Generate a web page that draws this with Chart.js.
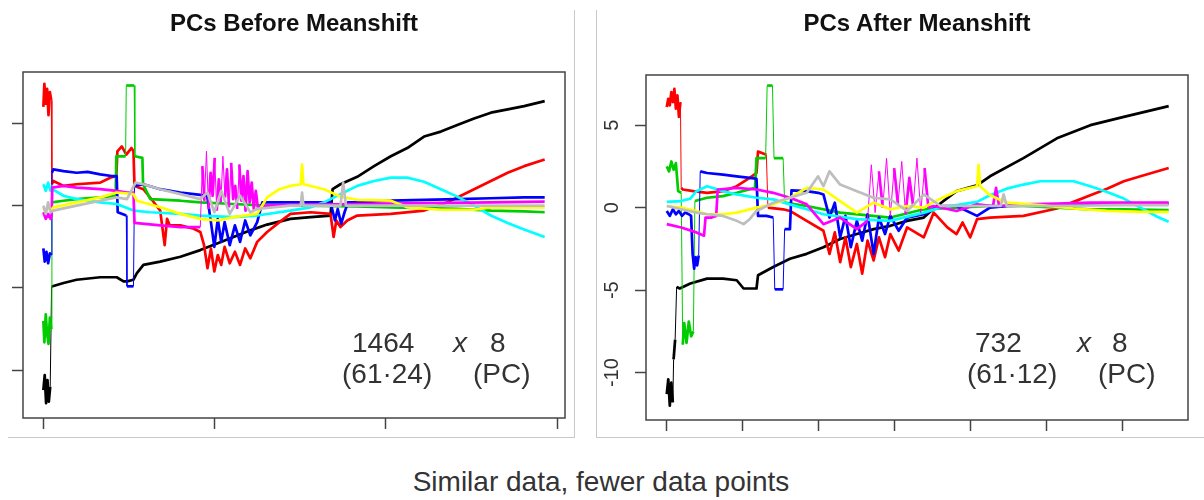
<!DOCTYPE html>
<html>
<head>
<meta charset="utf-8">
<script src="https://cdn.jsdelivr.net/npm/chart.js@4.4.0/dist/chart.umd.min.js"></script>
<style>
  body { margin: 0; background: #fff; }
  #page { position: relative; width: 1204px; height: 500px; overflow: hidden;
          font-family: "Liberation Sans", Arial, sans-serif; }
  .frame { position: absolute; box-sizing: border-box; }
  .title { position: absolute; width: 600px; text-align: center; font-weight: bold;
           font-size: 24px; line-height: 24px; color: #111; }
  .note { position: absolute; font-size: 28px; line-height: 28px; color: #333; white-space: nowrap; }
  .note i { font-style: italic; }
  canvas { position: absolute; top: 0; }
</style>
</head>
<body>
<div id="page">
  <div class="frame" style="left:8px;top:10px;width:567px;height:428px;border-right:1px solid #c8c8c8;border-bottom:1px solid #c8c8c8;"></div>
  <div class="frame" style="left:596px;top:10px;width:608px;height:428px;border-left:1px solid #c8c8c8;border-bottom:1px solid #c8c8c8;"></div>

  <canvas id="pcBefore" width="574" height="437" style="left:0px;"></canvas>
  <canvas id="pcAfter" width="607" height="437" style="left:597px;"></canvas>

  <div class="title" style="left:-6px;top:11px;">PCs Before Meanshift</div>
  <div class="title" style="left:617px;top:11px;">PCs After Meanshift</div>

  <div class="note" style="left:352px;top:329px;">1464</div>
  <div class="note" style="left:453px;top:329px;"><i>x</i></div>
  <div class="note" style="left:490px;top:329px;">8</div>
  <div class="note" style="left:342px;top:360px;">(61·24)</div>
  <div class="note" style="left:473px;top:360px;">(PC)</div>

  <div class="note" style="left:975px;top:329px;">732</div>
  <div class="note" style="left:1077px;top:329px;"><i>x</i></div>
  <div class="note" style="left:1112px;top:329px;">8</div>
  <div class="note" style="left:967px;top:360px;">(61·12)</div>
  <div class="note" style="left:1098px;top:360px;">(PC)</div>

  <div class="note" style="left:301px;top:468px;width:600px;text-align:center;">Similar data, fewer data points</div>
</div>

<script>
// R default palette, one colour per PC
const pcNames = ['PC1', 'PC2', 'PC3', 'PC4', 'PC5', 'PC6', 'PC7', 'PC8'];
const pcColors = ['#000000', '#FF0000', '#00CD00', '#0000FF', '#00FFFF', '#FF00FF', '#FFFF00', '#BEBEBE'];

const yTicks = [-10, -5, 0, 5];
const xTicksBefore = [0, 500, 1000, 1500];
const xTicksAfter = [0, 100, 200, 300, 400, 500, 600];

// ---- before meanshift (1464 rows) ----
const blackBeforeX = [1,5,9,13,17,21,25,28,60,98,167,215,235,245,264,274,293,342,401,459,508,556,605,654,722,781,839,845,868,917,966,1015,1063,1112,1161,1209,1258,1307,1356,1404,1464];
const blackBeforeY = [-11.2,-10.3,-12.0,-10.6,-11.9,-11.0,-4.9,-4.9,-4.7,-4.5,-4.35,-4.35,-4.6,-4.6,-4.5,-4.1,-3.6,-3.4,-3.1,-2.7,-2.3,-1.9,-1.5,-1.15,-0.8,-0.7,-0.6,1.0,1.3,1.75,2.4,3.0,3.5,4.2,4.5,4.9,5.3,5.65,5.85,6.05,6.35];

const redBeforeX = [1,4,8,12,16,20,24,26,30,60,98,167,196,214,217,230,243,258,264,267,293,320,342,355,362,370,401,440,459,470,480,490,500,510,520,530,545,560,575,590,605,625,654,690,722,781,839,848,856,868,888,917,1015,1112,1180,1209,1258,1307,1356,1404,1464];
const redBeforeY = [6.0,7.4,6.2,7.1,5.5,6.9,6.4,1.3,1.5,1.2,1.3,1.4,1.7,1.8,3.3,3.6,3.1,3.5,3.3,1.2,1.0,0.3,-0.3,-2.4,-0.8,-1.2,-1.2,-1.4,-1.6,-2.4,-3.8,-2.6,-4.0,-3.0,-3.6,-2.5,-3.5,-2.8,-3.6,-2.6,-3.2,-2.2,-1.6,-1.0,-0.5,-0.4,-0.5,-1.9,-0.9,-1.3,-0.9,-0.6,-0.5,-0.3,0.2,0.5,1.0,1.5,2.0,2.4,2.8];

const greenBeforeX = [1,4,8,12,16,20,24,26,60,98,167,212,214,241,243,266,268,290,292,313,401,459,556,654,751,917,1015,1112,1209,1307,1404,1464];
const greenBeforeY = [-7.0,-8.3,-6.6,-7.8,-8.4,-6.8,-7.5,0.2,0.3,0.4,0.5,0.6,3.0,3.0,7.3,7.3,3.0,2.9,1.3,0.4,0.3,0.2,0.1,0.0,0.0,-0.05,-0.1,-0.15,-0.2,-0.3,-0.35,-0.4];

const blueBeforeX = [1,5,10,15,20,24,26,30,60,98,130,167,200,215,218,243,245,264,267,293,342,401,459,479,490,500,510,520,530,545,560,575,590,605,625,640,722,781,839,852,860,870,880,890,917,1015,1112,1209,1307,1404,1464];
const blueBeforeY = [-2.6,-3.4,-2.8,-3.5,-2.9,-3.0,2.0,2.2,2.1,2.0,2.05,1.9,1.8,1.8,-0.4,-0.6,-4.9,-4.9,1.2,1.3,1.0,0.8,0.65,0.6,-1.0,-2.5,-0.8,-2.2,-1.0,-2.4,-1.2,-2.2,-0.9,-1.8,-1.0,0.2,0.2,0.2,0.2,-0.9,-0.2,-1.1,-0.4,0.2,0.2,0.3,0.35,0.4,0.45,0.5,0.5];

const cyanBeforeX = [1,8,15,22,27,60,98,167,215,264,313,401,459,556,625,722,781,820,878,917,966,1015,1063,1112,1161,1209,1258,1307,1356,1404,1464];
const cyanBeforeY = [1.3,0.9,1.4,0.9,1.0,0.6,0.4,0.2,0.1,-0.3,-0.4,-0.5,-0.6,-0.7,-0.6,-0.3,-0.1,0.2,0.8,1.2,1.5,1.7,1.7,1.45,1.0,0.55,0.0,-0.6,-1.05,-1.45,-1.9];

const magentaBeforeX = [1,8,15,22,25,27,60,98,167,215,245,264,267,342,401,459,465,471,477,483,489,495,501,507,513,519,525,531,537,543,549,555,561,567,573,579,585,591,597,603,609,615,621,627,654,722,917,1112,1307,1464];
const magentaBeforeY = [-0.4,-0.8,-0.5,-0.8,-0.6,1.1,1.2,1.1,1.0,0.9,0.8,0.8,-1.05,-1.2,-1.3,-1.3,2.4,0.3,3.3,-0.2,2.0,0.6,2.9,-0.3,1.6,0.2,3.0,0.5,2.2,-0.1,2.6,0.4,1.2,-0.2,2.5,0.3,1.8,-0.3,2.1,0.2,1.4,-0.2,0.9,-0.1,0.0,0.05,0.1,0.15,0.2,0.25];

const yellowBeforeX = [1,8,15,22,30,98,167,215,264,274,342,401,459,508,556,625,654,690,722,752,756,760,820,868,917,1015,1063,1161,1258,1307,1464];
const yellowBeforeY = [-0.1,-0.4,0.0,-0.3,-0.1,0.2,0.5,0.8,0.7,0.3,-0.1,-0.5,-0.8,-0.9,-0.7,-0.5,0.5,1.0,1.2,1.3,2.5,1.3,1.0,0.55,0.35,0.3,-0.1,-0.25,-0.25,-0.1,-0.1];

const grayBeforeX = [1,8,15,22,30,98,167,215,245,270,293,342,401,459,480,500,520,545,575,605,625,722,752,756,760,868,876,884,1015,1464];
const grayBeforeY = [0.0,-0.5,0.2,-0.4,-0.3,0.0,0.3,0.5,0.4,1.4,1.3,1.0,0.7,0.4,0.8,-0.4,0.9,-0.5,0.6,-0.4,-0.2,0.0,0.0,0.8,0.0,0.0,1.4,0.0,0.0,0.0];

// ---- after meanshift ----
const blackAfterX = [1,3,5,7,9,10,12,14,18,32,54,75,93,102,119,121,141,163,185,207,229,251,273,295,317,339,352,382,409,426,470,514,558,602,661];
const blackAfterY = [-11.3,-10.4,-12.0,-10.6,-11.8,-9.2,-8.0,-4.8,-4.9,-4.6,-4.3,-4.3,-4.4,-4.9,-4.9,-4.1,-3.6,-3.1,-2.8,-2.4,-1.9,-1.6,-1.3,-1.1,-0.8,-0.6,-0.05,1.0,1.35,1.9,3.0,4.2,5.0,5.5,6.15];

const redAfterX = [1,3,5,7,9,11,13,15,17,19,20,22,36,54,75,93,110,119,121,132,134,154,163,185,207,215,222,229,236,243,251,258,265,273,280,288,295,306,317,339,352,370,382,390,400,409,426,470,514,536,558,580,602,624,661];
const redAfterY = [6.1,6.6,6.2,7.0,6.4,7.2,6.0,6.8,5.5,6.4,1.2,1.1,1.0,0.9,1.0,1.3,1.8,2.1,3.4,3.2,0.0,-0.1,-0.2,-0.8,-1.4,-2.8,-1.5,-3.3,-1.8,-3.6,-2.2,-4.0,-2.0,-3.2,-1.8,-3.0,-1.6,-2.6,-1.2,-1.8,-0.3,-1.2,-1.6,-0.9,-1.8,-0.7,-0.6,-0.5,-0.05,0.35,0.75,1.15,1.6,1.9,2.4];

const greenAfterX = [1,4,7,10,13,16,20,22,24,27,30,33,36,38,54,75,93,117,119,131,133,140,142,154,156,185,229,295,339,382,426,470,514,558,602,661];
const greenAfterY = [2.5,2.2,2.8,2.3,2.7,1.0,0.9,-8.3,-7.0,-8.2,-6.9,-7.8,-7.5,0.4,0.6,0.7,0.9,1.2,3.0,3.0,7.4,7.4,3.0,3.0,0.3,0.1,-0.3,-0.6,-0.1,0.0,0.1,0.1,0.0,-0.1,-0.1,-0.15];

const blueAfterX = [1,5,9,13,17,21,25,30,33,35,37,39,41,43,45,54,75,93,110,119,121,132,141,143,154,156,163,165,185,200,207,215,222,229,236,243,251,258,265,273,280,288,295,306,317,339,361,382,409,426,450,500,558,661];
const blueAfterY = [-0.2,-0.5,-0.1,-0.4,-0.2,-0.5,-0.3,-0.4,-0.5,-2.8,-3.7,-3.0,-3.5,-2.9,2.2,2.1,2.0,1.9,1.8,1.75,-0.5,-0.5,-0.6,-4.95,-4.95,-1.3,-1.3,1.05,1.0,0.9,0.8,-0.6,0.3,-1.8,-0.5,-2.4,-0.8,-2.0,-0.4,-2.8,-0.6,-1.6,-0.5,-1.4,-0.6,-0.4,0.1,0.1,-0.5,0.0,0.1,0.15,0.2,0.25];

const cyanAfterX = [1,20,32,40,54,75,93,119,141,163,185,207,251,295,339,361,382,409,426,448,470,492,536,558,580,602,624,646,661];
const cyanAfterY = [0.35,0.4,0.55,1.0,1.3,1.0,0.8,0.6,0.5,0.2,-0.1,-0.4,-0.7,-0.8,-0.3,0.0,0.15,0.35,0.75,1.15,1.4,1.6,1.6,1.3,0.95,0.55,0.0,-0.55,-0.85];

const magentaAfterX = [1,20,40,50,52,60,66,68,93,119,141,163,185,207,229,251,265,270,275,280,285,290,295,300,305,310,315,320,325,330,335,340,345,352,382,409,430,434,438,470,514,558,602,661];
const magentaAfterY = [-1.0,-1.2,-1.5,-1.7,-0.6,-0.6,-0.5,1.1,1.2,1.1,0.9,0.6,0.2,-1.0,-0.6,-1.3,-0.8,2.6,-0.3,2.2,0.0,3.0,-0.5,2.4,0.2,2.8,-0.4,1.8,0.1,3.0,-0.3,2.4,0.0,0.1,-0.2,0.2,0.1,1.2,0.1,0.2,0.25,0.3,0.3,0.3];

const yellowAfterX = [1,20,40,54,75,93,119,141,163,185,207,229,251,273,295,317,339,352,382,409,411,413,426,448,492,536,580,624,661];
const yellowAfterY = [0.1,0.0,-0.2,-0.4,-0.4,-0.3,0.0,0.2,0.6,1.2,1.1,0.4,-0.3,0.3,-0.1,0.1,0.0,0.35,1.0,1.3,2.6,1.3,0.75,0.3,0.15,-0.05,-0.2,-0.25,-0.25];

const grayAfterX = [1,20,40,54,75,93,102,110,119,141,163,185,200,207,215,229,251,273,295,317,339,361,409,440,444,448,500,600,661];
const grayAfterY = [0.1,-0.1,-0.3,-0.4,-0.5,-0.8,-1.0,-0.7,-0.2,0.3,0.6,0.9,1.9,1.3,2.2,1.4,1.0,0.6,0.5,-0.2,0.8,0.1,0.1,0.1,0.8,0.1,0.1,0.15,0.15];

const beforeSeries = [
  [blackBeforeX, blackBeforeY], [redBeforeX, redBeforeY], [greenBeforeX, greenBeforeY], [blueBeforeX, blueBeforeY],
  [cyanBeforeX, cyanBeforeY], [magentaBeforeX, magentaBeforeY], [yellowBeforeX, yellowBeforeY], [grayBeforeX, grayBeforeY]
];
const afterSeries = [
  [blackAfterX, blackAfterY], [redAfterX, redAfterY], [greenAfterX, greenAfterY], [blueAfterX, blueAfterY],
  [cyanAfterX, cyanAfterY], [magentaAfterX, magentaAfterY], [yellowAfterX, yellowAfterY], [grayAfterX, grayAfterY]
];

function toPoints(xs, ys) {
  return xs.map((x, i) => ({ x: x, y: ys[i] }));
}

// long vertical jumps are single thin segments in the original
function jumpWidth(c) {
  const dx = Math.abs(c.p1.x - c.p0.x);
  const dy = Math.abs(c.p1.y - c.p0.y);
  return (dy > 40 && dy > 6 * dx) ? 1 : 2.7;
}

const plotBox = {
  id: 'plotBox',
  afterDraw(chart) {
    const { ctx, chartArea: a } = chart;
    ctx.save();
    ctx.strokeStyle = '#444';
    ctx.lineWidth = 1.5;
    ctx.strokeRect(a.left, a.top, a.right - a.left, a.bottom - a.top);
    ctx.restore();
  }
};

// R style y labels, turned 90 degrees and centred on the tick
const rotatedYLabels = {
  id: 'rotatedYLabels',
  afterDraw(chart, args, opts) {
    if (!opts.show) return;
    const { ctx, chartArea, scales } = chart;
    ctx.save();
    ctx.fillStyle = '#333';
    ctx.font = '20px "Liberation Sans", Arial, sans-serif';
    ctx.textAlign = 'center';
    ctx.textBaseline = 'alphabetic';
    yTicks.forEach(v => {
      const y = scales.y.getPixelForValue(v);
      ctx.save();
      ctx.translate(chartArea.left - opts.offset, y);
      ctx.rotate(-Math.PI / 2);
      ctx.fillText(String(v), 0, 0);
      ctx.restore();
    });
    ctx.restore();
  }
};

function crtPcChart({ elementId, series, xTicks, xMin, xMax, yMin, yMax, padding, showYLabels }) {
  const ctx = document.getElementById(elementId).getContext('2d');
  const tickGrid = { display: true, drawOnChartArea: false, drawTicks: true, tickLength: 11, tickColor: '#444', tickWidth: 1.5 };
  return new Chart(ctx, {
    type: 'line',
    data: {
      datasets: series.map((s, i) => ({
        label: pcNames[i],
        data: toPoints(s[0], s[1]),
        borderColor: pcColors[i],
        borderWidth: 2.7,
        borderJoinStyle: 'round',
        pointRadius: 0,
        tension: 0,
        fill: false,
        order: series.length - i,
        segment: { borderWidth: jumpWidth }
      }))
    },
    options: {
      responsive: false,
      animation: false,
      devicePixelRatio: 1,
      events: [],
      layout: { padding: padding },
      scales: {
        x: {
          type: 'linear', min: xMin, max: xMax,
          afterBuildTicks: s => { s.ticks = xTicks.map(v => ({ value: v })); },
          afterFit: s => { s.height = 11; },
          ticks: { display: false },
          grid: tickGrid,
          border: { display: false }
        },
        y: {
          type: 'linear', min: yMin, max: yMax,
          afterBuildTicks: s => { s.ticks = yTicks.map(v => ({ value: v })); },
          afterFit: s => { s.width = 11; },
          ticks: { display: false },
          grid: tickGrid,
          border: { display: false }
        }
      },
      plugins: {
        legend: { display: false },
        tooltip: { enabled: false },
        rotatedYLabels: { show: showYLabels, offset: 28 }
      }
    },
    plugins: [plotBox, rotatedYLabels]
  });
}

crtPcChart({
  elementId: 'pcBefore',
  series: beforeSeries,
  xTicks: xTicksBefore,
  xMin: -58.4, xMax: 1523.3,
  yMin: -12.9, yMax: 8.12,
  padding: { left: 12, top: 72, right: 9, bottom: 8 },
  showYLabels: false
});

crtPcChart({
  elementId: 'pcAfter',
  series: afterSeries,
  xTicks: xTicksAfter,
  xMin: -26.3, xMax: 686.4,
  yMin: -12.87, yMax: 8.04,
  padding: { left: 38, top: 75, right: 16, bottom: 6 },
  showYLabels: true
});
</script>
</body>
</html>
